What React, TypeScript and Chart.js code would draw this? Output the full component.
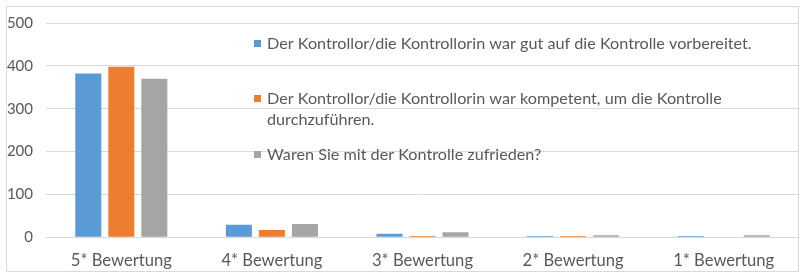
import React, { useEffect, useRef } from "react";
import { Chart, registerables } from "chart.js";

Chart.register(...registerables);

const categories = ["5* Bewertung", "4* Bewertung", "3* Bewertung", "2* Bewertung", "1* Bewertung"];
const seriesLabels = [
  ["Der Kontrollor/die Kontrollorin war gut auf die Kontrolle vorbereitet."],
  ["Der Kontrollor/die Kontrollorin war kompetent, um die Kontrolle", "durchzuführen."],
  ["Waren Sie mit der Kontrolle zufrieden?"],
];
const vorbereitet = [382, 29, 8, 3, 3];
const kompetent = [398, 17, 3, 3, 0];
const zufrieden = [370, 31, 12, 5, 5];
const seriesColors = ["#5b9bd5", "#ed7d31", "#a5a5a5"];
const yMin = 0;
const yMax = 500;
const yStep = 100;

const FONT = "Lato, 'Open Sans', sans-serif";
const TEXT = "#595959";
const GRID = "#d9d9d9";

const legendPlugin = {
  id: "customLegend",
  afterDraw(chart: any) {
    const ctx = chart.ctx;
    const rows = [44, 99, 155];
    ctx.save();
    ctx.font = `16.2px ${FONT}`;
    ctx.textBaseline = "middle";
    ctx.textAlign = "left";
    chart.data.datasets.forEach((ds: any, i: number) => {
      const y = rows[i];
      ctx.fillStyle = ds.backgroundColor;
      ctx.fillRect(254, y - 4, 7, 7);
      ctx.fillStyle = TEXT;
      const lines: string[] = Array.isArray(ds.label) ? ds.label : [ds.label];
      lines.forEach((ln, j) => ctx.fillText(ln, 267, y + j * 21));
    });
    ctx.strokeStyle = GRID;
    ctx.lineWidth = 1;
    ctx.strokeRect(6.5, 6.5, 792, 265);
    ctx.restore();
  },
};

export default function App() {
  const ref = useRef<HTMLCanvasElement | null>(null);
  useEffect(() => {
    document.body.style.margin = "0";
    const canvas = ref.current!;
    const values = [vorbereitet, kompetent, zufrieden];
    const chart = new Chart(canvas, {
      type: "bar",
      data: {
        labels: categories,
        datasets: values.map((v, i) => ({
          label: seriesLabels[i] as any,
          data: v,
          backgroundColor: seriesColors[i],
          borderWidth: 0,
          categoryPercentage: 0.658,
          barPercentage: 0.788,
        })),
      },
      options: {
        animation: false,
        responsive: false,
        devicePixelRatio: 1,
        layout: { padding: { top: 23, right: 1, left: 0, bottom: 0 } },
        plugins: { legend: { display: false }, tooltip: { enabled: false } },
        scales: {
          x: {
            grid: { display: false },
            border: { display: false },
            ticks: { color: TEXT, font: { family: FONT, size: 16.6 }, padding: 5, maxRotation: 0 },
            afterFit: (s: any) => {
              s.height = 277 - 237.3;
            },
          },
          y: {
            min: yMin,
            max: yMax,
            grid: { color: GRID, drawTicks: false },
            border: { display: false },
            ticks: { stepSize: yStep, color: TEXT, font: { family: FONT, size: 15 }, padding: 13 },
            afterFit: (s: any) => {
              s.width = 46;
            },
          },
        },
      },
      plugins: [legendPlugin],
    });
    return () => chart.destroy();
  }, []);
  return (
    <div style={{ position: "relative", width: 800, height: 277 }}>
      <canvas ref={ref} width={800} height={277} style={{ display: "block" }} />
    </div>
  );
}
